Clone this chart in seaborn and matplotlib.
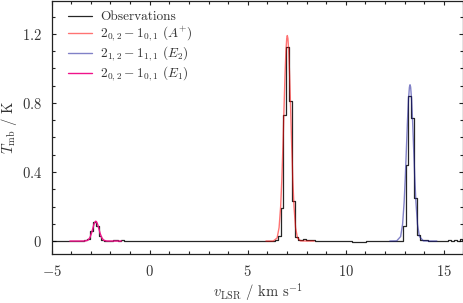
import matplotlib
matplotlib.use('Agg')
import matplotlib.pyplot as plt
from matplotlib.ticker import MultipleLocator, FuncFormatter
import numpy as np
import pandas as pd
import seaborn as sns

# spectrum channels: start velocity and channel width (km/s)
V_START = -5.0
DV = 0.145

obs_temp = [
    0.002, 0.003, 0.001, -0.001, -0.002, 0.000, 0.001, 0.002, 0.000, -0.002, 0.001, 0.003, 0.004,
    0.012, 0.060, 0.112, 0.085, 0.030, 0.005,
    0.002, 0.003, 0.001, 0.004, 0.005, 0.003, 0.004, 0.002, 0.000, 0.001, -0.001,
    0.002, 0.003, 0.001, 0.000, -0.002, -0.001, 0.001, 0.002, 0.000, -0.001, -0.002,
    -0.002, -0.001, 0.000, 0.001, 0.000, -0.001, -0.002, -0.001, 0.000, 0.001,
    0.002, 0.001, 0.000, 0.001, 0.002, 0.001, 0.000, -0.001, 0.000, 0.001,
    0.002, 0.001, 0.000, -0.001, 0.000, 0.001, 0.002, 0.001, 0.000, -0.001,
    0.000, 0.001, 0.002, 0.001, 0.000, 0.001, 0.002, 0.003,
    0.005, 0.030, 0.190, 0.727, 1.122, 0.810, 0.232, 0.025, 0.006,
    0.008, 0.010, 0.008, 0.006, 0.004, 0.003, 0.002, 0.001, 0.000, 0.001,
    0.002, 0.001, 0.000, -0.001, 0.000, 0.001, 0.000, -0.002, -0.003, -0.004,
    -0.005, -0.004, -0.003, -0.002, -0.001, 0.000, 0.001, 0.002, 0.001, 0.000,
    0.001, 0.002, 0.001, 0.000, 0.002, 0.003,
    0.087, 0.440, 0.840, 0.710, 0.250, 0.035, 0.005,
    0.008, 0.004, 0.002, 0.001, 0.000, 0.002, 0.001, 0.000, 0.003, 0.005,
    0.002, 0.007, 0.003, 0.010, 0.004,
]

# model fits, sampled from the curves
a_vel = [5.93, 6.3, 6.5, 6.6, 6.68, 6.74, 6.8, 6.85, 6.9, 6.95, 6.99, 7.02,
         7.05, 7.09, 7.14, 7.19, 7.24, 7.3, 7.36, 7.44, 7.54, 7.7, 8.0, 8.39]
a_temp = [0.0, 0.0, 0.018, 0.078, 0.200, 0.355, 0.564, 0.762, 0.953, 1.103, 1.173, 1.19,
          1.173, 1.103, 0.953, 0.762, 0.564, 0.355, 0.200, 0.078, 0.018, 0.001, 0.0, 0.0]

e2_vel = [12.25, 12.6, 12.8, 12.9, 12.98, 13.04, 13.1, 13.15, 13.2, 13.25, 13.28,
          13.31, 13.36, 13.41, 13.46, 13.52, 13.58, 13.66, 13.76, 13.96, 14.3, 14.65]
e2_temp = [0.0, 0.001, 0.026, 0.097, 0.226, 0.372, 0.549, 0.697, 0.820, 0.892, 0.905,
           0.892, 0.820, 0.697, 0.549, 0.372, 0.226, 0.097, 0.026, 0.001, 0.0, 0.0]

e1_vel = [-4.07, -3.6, -3.3, -3.15, -3.05, -2.97, -2.9, -2.84, -2.79, -2.75,
          -2.71, -2.66, -2.6, -2.53, -2.45, -2.35, -2.2, -1.9, -1.44]
e1_temp = [0.0, 0.0, 0.0003, 0.005, 0.020, 0.045, 0.074, 0.098, 0.111, 0.115,
           0.111, 0.098, 0.074, 0.045, 0.020, 0.005, 0.0003, 0.0, 0.0]

obs = pd.DataFrame({'v': V_START + DV * np.arange(len(obs_temp)), 'T': obs_temp})

INK = '#333333'
sns.set_theme(style='ticks')
plt.rcParams.update({
    'font.family': 'cmr10',
    'mathtext.fontset': 'cm',
    'axes.formatter.use_mathtext': True,
    'font.size': 10,
    'axes.edgecolor': '#222222',
    'axes.linewidth': 0.9,
    'xtick.color': '#222222',
    'ytick.color': '#222222',
    'xtick.labelcolor': INK,
    'ytick.labelcolor': INK,
    'text.color': INK,
    'axes.labelcolor': INK,
})

fig = plt.figure(figsize=(4.64, 3.03), dpi=100)
ax = fig.add_axes([0.1114, 0.1617, 0.8872, 0.835])

sns.lineplot(data=obs, x='v', y='T', ax=ax, color='black', alpha=0.85, linewidth=0.9,
             drawstyle='steps-mid', estimator=None, sort=False, label='Observations')
sns.lineplot(x=a_vel, y=a_temp, ax=ax, color='red', alpha=0.55, linewidth=1.0,
             estimator=None, sort=False, label=r'$2_{0,2}-1_{0,1}\ (A^{+})$')
sns.lineplot(x=e2_vel, y=e2_temp, ax=ax, color='#1a1a99', alpha=0.55, linewidth=1.0,
             estimator=None, sort=False, label=r'$2_{1,2}-1_{1,1}\ (E_2)$')
sns.lineplot(x=e1_vel, y=e1_temp, ax=ax, color='#f0138a', alpha=1.0, linewidth=1.0,
             estimator=None, sort=False, label=r'$2_{0,2}-1_{0,1}\ (E_1)$')

ax.set_xlim(-5, 16)
ax.set_ylim(-0.075, 1.39)
ax.xaxis.set_major_locator(MultipleLocator(5))
ax.xaxis.set_minor_locator(MultipleLocator(1))
ax.yaxis.set_major_locator(MultipleLocator(0.4))
ax.yaxis.set_minor_locator(MultipleLocator(0.1))
fmt = FuncFormatter(lambda v, pos: r'$%g$' % round(v, 2))
ax.xaxis.set_major_formatter(fmt)
ax.yaxis.set_major_formatter(fmt)
ax.tick_params(which='both', direction='in', top=True, right=True, labelsize=10.5, width=0.8)
ax.tick_params(which='major', length=3.2, pad=7)
ax.tick_params(which='minor', length=2)

ax.set_xlabel(r'$v_{\rm LSR}$ / km s$^{-1}$', fontsize=10.5)
ax.set_ylabel(r'$T_{\rm mb}$ / K', fontsize=10.5)
ax.xaxis.set_label_coords(0.5, -0.152)
ax.xaxis.label.set_va('center')
ax.yaxis.set_label_coords(-0.103, 0.5)
ax.yaxis.label.set_va('center')

leg = ax.legend(loc='upper left', bbox_to_anchor=(0.015, 1.0), frameon=False, fontsize=9.6,
                handlelength=1.8, labelspacing=0.1, borderaxespad=0.35, handletextpad=0.6)

fig.savefig('out.png', dpi=100)
